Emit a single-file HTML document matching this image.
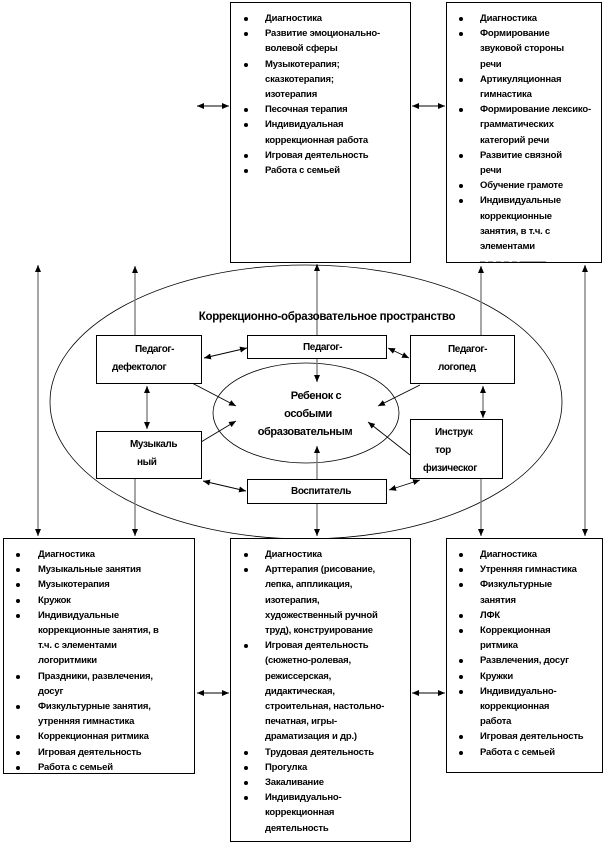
<!DOCTYPE html>
<html><head><meta charset="utf-8"><style>
body{margin:0;width:610px;height:847px;background:#fff;position:relative;overflow:hidden;font-family:"Liberation Sans","DejaVu Sans",sans-serif;}
.b{position:absolute;border:1px solid #000;background:#fff;box-sizing:border-box;overflow:hidden;font-weight:bold;font-size:9.5px;letter-spacing:-0.2px;color:#000;white-space:nowrap}
.b ul{margin:0;padding:0;list-style:none}
.b li{position:relative;line-height:15.2px;padding-left:var(--pl)}
.b li:before{content:"";position:absolute;left:var(--bl);top:6px;width:4px;height:4px;border-radius:50%;background:#000}
.b li.nb:before{display:none}
.n{position:absolute;border:1px solid #000;background:#fff;box-sizing:border-box;font-weight:bold;font-size:10px;letter-spacing:-0.4px;line-height:23px;white-space:nowrap}
svg{position:absolute;left:0;top:0}
</style></head><body>
<svg width="610" height="847">
<defs><marker id="a" markerWidth="8" markerHeight="8" refX="7" refY="4" orient="auto-start-reverse" markerUnits="userSpaceOnUse"><path d="M0,1L7,4L0,7z" fill="#000"/></marker></defs>
<ellipse cx="306" cy="402" rx="256" ry="137" fill="none" stroke="#000" stroke-width="0.8"/>
<ellipse cx="306" cy="413" rx="93" ry="50" fill="none" stroke="#000" stroke-width="0.8"/>
<g stroke="#808080" stroke-width="1.4" fill="none">
<line x1="38" y1="265" x2="38" y2="536" marker-start="url(#a)" marker-end="url(#a)"/>
<line x1="585" y1="265" x2="585" y2="536" marker-start="url(#a)" marker-end="url(#a)"/>
<line x1="147" y1="386" x2="147" y2="429" marker-start="url(#a)" marker-end="url(#a)"/>
<line x1="483" y1="386" x2="483" y2="418" marker-start="url(#a)" marker-end="url(#a)"/>
<line x1="135" y1="335" x2="135" y2="266" marker-end="url(#a)"/>
<line x1="135" y1="479" x2="135" y2="536" marker-end="url(#a)"/>
<line x1="481" y1="335" x2="481" y2="266" marker-end="url(#a)"/>
<line x1="481" y1="479" x2="481" y2="536" marker-end="url(#a)"/>
<line x1="317" y1="335" x2="317" y2="264" marker-end="url(#a)"/>
<line x1="317" y1="359" x2="317" y2="382" marker-end="url(#a)"/>
<line x1="317" y1="479" x2="317" y2="446" marker-end="url(#a)"/>
<line x1="317" y1="503" x2="317" y2="536" marker-end="url(#a)"/>
</g>
<g stroke="#000" stroke-width="0.9" fill="none">
<line x1="197" y1="106" x2="229" y2="106" marker-end="url(#a)" marker-start="url(#a)"/>
<line x1="412" y1="106" x2="445" y2="106" marker-end="url(#a)" marker-start="url(#a)"/>
<line x1="197" y1="693" x2="229" y2="693" marker-end="url(#a)" marker-start="url(#a)"/>
<line x1="412" y1="693" x2="445" y2="693" marker-end="url(#a)" marker-start="url(#a)"/>
<line x1="204" y1="358" x2="247" y2="348" marker-end="url(#a)" marker-start="url(#a)"/>
<line x1="388" y1="348" x2="409" y2="358" marker-end="url(#a)" marker-start="url(#a)"/>
<line x1="203" y1="481" x2="246" y2="491" marker-end="url(#a)" marker-start="url(#a)"/>
<line x1="389" y1="490" x2="420" y2="480" marker-end="url(#a)" marker-start="url(#a)"/>
<line x1="192" y1="383" x2="236" y2="406" marker-end="url(#a)"/>
<line x1="420" y1="385" x2="378" y2="406" marker-end="url(#a)"/>
<line x1="201" y1="442" x2="236" y2="421" marker-end="url(#a)"/>
<line x1="410" y1="455" x2="368" y2="422" marker-end="url(#a)"/>
</g>
<text x="327" y="320" text-anchor="middle" font-family="Liberation Sans" font-weight="bold" font-size="11.5" letter-spacing="-0.3">Коррекционно-образовательное пространство</text>
<text x="316" y="399" text-anchor="middle" font-family="Liberation Sans" font-weight="bold" font-size="11" letter-spacing="-0.4">Ребенок с</text>
<text x="308" y="417" text-anchor="middle" font-family="Liberation Sans" font-weight="bold" font-size="11" letter-spacing="-0.4">особыми</text>
<text x="305" y="435" text-anchor="middle" font-family="Liberation Sans" font-weight="bold" font-size="11" letter-spacing="-0.4">образовательным</text>
</svg>

<div class="n" style="left:96px;top:335px;width:106px;height:49px;line-height:18px;padding-top:5px"><div style="padding-left:38px">Педагог-</div><div style="padding-left:15px">дефектолог</div></div>
<div class="n" style="left:247px;top:335px;width:140px;height:24px;padding-left:55px">Педагог-</div>
<div class="n" style="left:410px;top:335px;width:105px;height:49px;line-height:18px;padding-top:5px"><div style="padding-left:37px">Педагог-</div><div style="padding-left:27px">логопед</div></div>
<div class="n" style="left:96px;top:431px;width:106px;height:48px;line-height:18px;padding-top:4px"><div style="padding-left:33px">Музыкаль</div><div style="padding-left:40px">ный</div></div>
<div class="n" style="left:410px;top:419px;width:93px;height:60px;line-height:18px;padding-top:4px"><div style="padding-left:24px">Инструк</div><div style="padding-left:24px">тор</div><div style="padding-left:12px">физическог</div></div>
<div class="n" style="left:247px;top:479px;width:140px;height:25px;padding-left:43px">Воспитатель</div>

<div class="b" style="left:230px;top:2px;width:181px;height:261px;padding-top:8px;--pl:34px;--bl:13px"><ul>
<li>Диагностика</li><li>Развитие эмоционально-<br>волевой сферы</li><li>Музыкотерапия;<br>сказкотерапия;<br>изотерапия</li><li>Песочная терапия</li><li>Индивидуальная<br>коррекционная работа</li><li>Игровая деятельность</li><li>Работа с семьей</li></ul></div>

<div class="b" style="left:446px;top:2px;width:156px;height:261px;padding-top:8px;--pl:33px;--bl:12px"><ul>
<li>Диагностика</li><li>Формирование<br>звуковой стороны<br>речи</li><li>Артикуляционная<br>гимнастика</li><li>Формирование лексико-<br>грамматических<br>категорий речи</li><li>Развитие связной<br>речи</li><li>Обучение грамоте</li><li>Индивидуальные<br>коррекционные<br>занятия, в т.ч. с<br>элементами</li><li class="nb" style="line-height:10px;letter-spacing:0">_ _ _ _ _ _____</li></ul></div>

<div class="b" style="left:3px;top:538px;width:192px;height:236px;padding-top:8px;--pl:34px;--bl:12px"><ul>
<li>Диагностика</li><li>Музыкальные занятия</li><li>Музыкотерапия</li><li>Кружок</li><li>Индивидуальные<br>коррекционные занятия, в<br>т.ч. с элементами<br>логоритмики</li><li>Праздники, развлечения,<br>досуг</li><li>Физкультурные занятия,<br>утренняя гимнастика</li><li>Коррекционная ритмика</li><li>Игровая деятельность</li><li>Работа с семьей</li></ul></div>

<div class="b" style="left:230px;top:538px;width:181px;height:304px;padding-top:8px;--pl:34px;--bl:13px"><ul>
<li>Диагностика</li><li>Арттерапия (рисование,<br>лепка, аппликация,<br>изотерапия,<br>художественный ручной<br>труд), конструирование</li><li>Игровая деятельность<br>(сюжетно-ролевая,<br>режиссерская,<br>дидактическая,<br>строительная, настольно-<br>печатная, игры-<br>драматизация и др.)</li><li>Трудовая деятельность</li><li>Прогулка</li><li>Закаливание</li><li>Индивидуально-<br>коррекционная<br>деятельность</li></ul></div>

<div class="b" style="left:446px;top:538px;width:157px;height:235px;padding-top:8px;--pl:33px;--bl:12px"><ul>
<li>Диагностика</li><li>Утренняя гимнастика</li><li>Физкультурные<br>занятия</li><li>ЛФК</li><li>Коррекционная<br>ритмика</li><li>Развлечения, досуг</li><li>Кружки</li><li>Индивидуально-<br>коррекционная<br>работа</li><li>Игровая деятельность</li><li>Работа с семьей</li></ul></div>
</body></html>
